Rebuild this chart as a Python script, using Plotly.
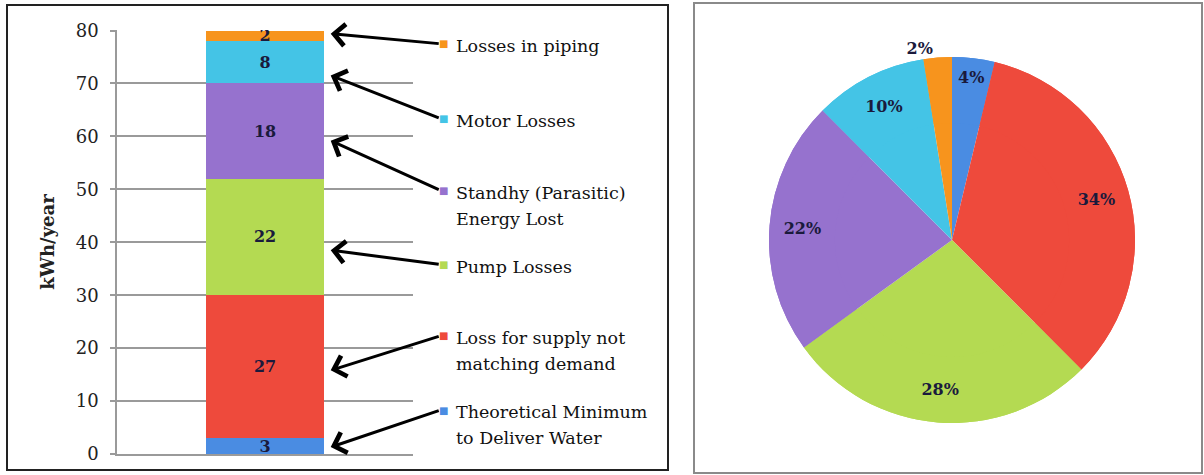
import plotly.graph_objects as go

# ---- data ----
categories = ["Theoretical Minimum to Deliver Water",
              "Loss for supply not matching demand",
              "Pump Losses",
              "Standhy (Parasitic) Energy Lost",
              "Motor Losses",
              "Losses in piping"]
label_lines = [["Theoretical Minimum", "to Deliver Water"],
               ["Loss for supply not", "matching demand"],
               ["Pump Losses"],
               ["Standhy (Parasitic)", "Energy Lost"],
               ["Motor Losses"],
               ["Losses in piping"]]
values = [3, 27, 22, 18, 8, 2]
pie_labels = ["4%", "34%", "28%", "22%", "10%", "2%"]
y_ticks = [0, 10, 20, 30, 40, 50, 60, 70, 80]

# ---- styles ----
colors = ["#4a8ce2", "#ee4a3c", "#b4da52", "#9672ce", "#44c4e6", "#f7941d"]
serif = "DejaVu Serif"
dark = "#1a1a3c"
W, H = 1204, 475

fig = go.Figure()

for name, v, c in zip(categories, values, colors):
    fig.add_trace(go.Bar(
        x=[0], y=[v], width=0.4, name=name, marker=dict(color=c, line=dict(width=0)),
        text=[f"<b>{v}</b>"], textposition="inside", insidetextanchor="middle",
        textangle=0, textfont=dict(family=serif, size=16, color=dark),
        showlegend=False, hoverinfo="skip"))

pie_domain = dict(x=[769 / W, 1135 / W], y=[1 - 423 / H, 1 - 57 / H])
# full pie underneath (no text)
fig.add_trace(go.Pie(
    values=values, sort=False, direction="clockwise", rotation=0,
    textinfo="none", marker=dict(colors=colors, line=dict(width=0)),
    domain=pie_domain, showlegend=False, hoverinfo="skip", automargin=False))
# ring on top carrying the percentage labels near the rim
fig.add_trace(go.Pie(
    values=values, sort=False, direction="clockwise", rotation=0, hole=0.64,
    text=[f"<b>{t}</b>" for t in pie_labels], textinfo="text",
    textposition=["inside"] * 5 + ["outside"],
    insidetextorientation="horizontal",
    marker=dict(colors=colors, line=dict(width=0)),
    textfont=dict(family=serif, size=16, color=dark),
    domain=pie_domain, showlegend=False, hoverinfo="skip", automargin=False))

fig.update_layout(
    width=W, height=H, autosize=False,
    margin=dict(l=0, r=0, t=0, b=0, autoexpand=False),
    paper_bgcolor="white", plot_bgcolor="white",
    barmode="stack",
    uniformtext=dict(minsize=16, mode="show"),
    font=dict(family=serif, size=16, color="#222"),
    xaxis=dict(domain=[117 / W, 413 / W], range=[-0.5, 0.5], showticklabels=False,
               showgrid=False, zeroline=False, showline=True, linecolor="#9a9a9a",
               linewidth=1.5, ticks="", automargin=False),
    yaxis=dict(domain=[1 - 454 / H, 1 - 30 / H], range=[0, 80.1], tickvals=y_ticks,
               showgrid=True, gridcolor="#9a9a9a", gridwidth=1.5,
               showline=True, linecolor="#9a9a9a", linewidth=1.5,
               ticks="outside", ticklen=5, tickcolor="#9a9a9a", tickwidth=1.5,
               ticklabelstandoff=8, automargin=False,
               zeroline=False, tickfont=dict(family=serif, size=18, color="#222"),
               title=dict(text="<b>kWh/year</b>", standoff=16,
                          font=dict(family=serif, size=18, color="#222"))),
)

# panel borders
fig.add_shape(type="rect", xref="paper", yref="paper",
              x0=7 / W, x1=668 / W, y0=1 - 470 / H, y1=1 - 5 / H,
              line=dict(color="#222", width=2), layer="below")
fig.add_shape(type="rect", xref="paper", yref="paper",
              x0=694 / W, x1=1202 / W, y0=1 - 473 / H, y1=1 - 3 / H,
              line=dict(color="#8a8a8a", width=2), layer="below")

# callout labels with arrows
tip_y = [1.3, 15.8, 38.5, 59.2, 71.5, 79.4]
tail_y = [8.3, 22.3, 35.8, 49.8, 63.4, 77.5]
line_step = 26 / (424 / 80.1)  # 26 px between label lines, in data units
for lines, c, ty, ly in zip(label_lines, colors, tip_y, tail_y):
    fig.add_annotation(x=0.222, y=ty, xref="x", yref="y",
                       ax=0.592, ay=ly, axref="x", ayref="y",
                       text="", showarrow=True, arrowhead=4, arrowsize=1.4,
                       arrowwidth=3, arrowcolor="black")
    fig.add_annotation(x=443 / W, y=ly, xref="paper", yref="y",
                       xanchor="center", yanchor="middle", showarrow=False,
                       text="■", font=dict(family="DejaVu Sans", size=10, color=c))
    for i, ln in enumerate(lines):
        fig.add_annotation(x=454 / W, y=ly - 0.4 - i * line_step, xref="paper", yref="y",
                           xanchor="left", yanchor="middle", showarrow=False,
                           text=ln, font=dict(family=serif, size=17.5, color="#111"))

fig.write_html("out.html")
